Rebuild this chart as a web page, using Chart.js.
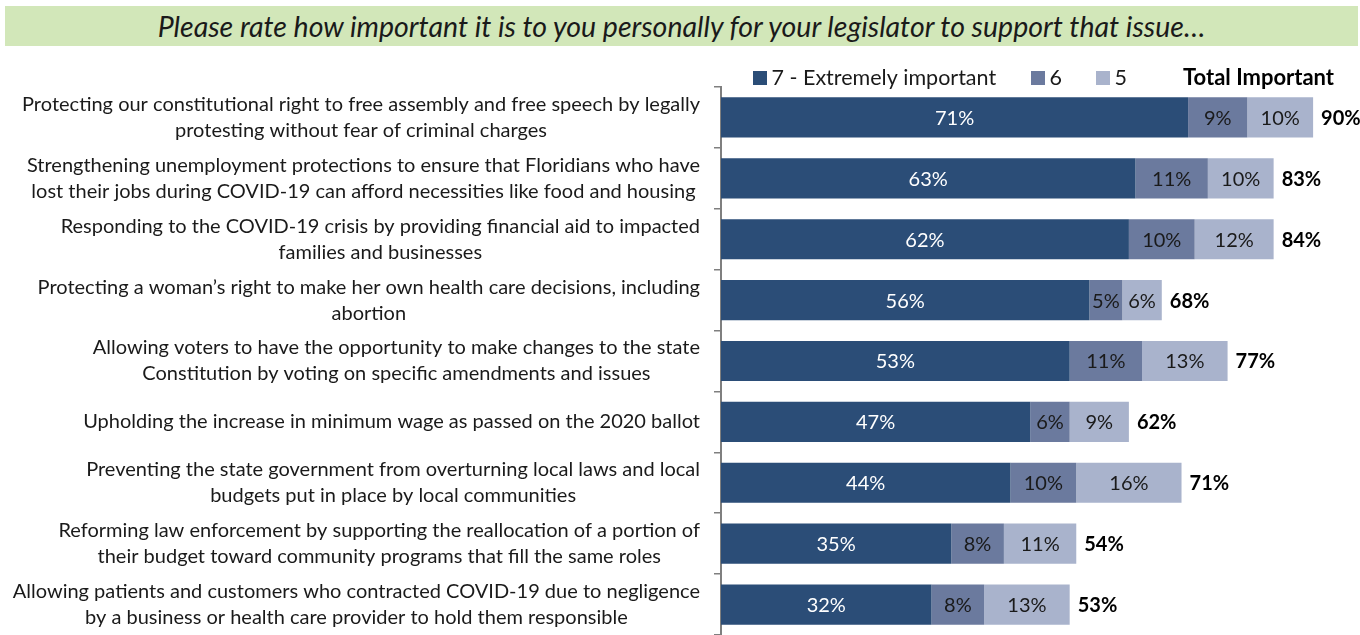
<!DOCTYPE html>
<html>
<head>
<meta charset="utf-8">
<script src="https://cdn.jsdelivr.net/npm/chart.js@4"></script>
<style>
  body { margin: 0; width: 1360px; height: 635px; background: #fff; overflow: hidden; font-family: Lato, sans-serif; }
  #banner {
    position: absolute; left: 5px; top: 6px; width: 1353px; height: 40px;
    background: #d2e7b9; color: #1a1a1a; font-style: italic; font-size: 28.5px;
    line-height: 40px; text-align: center; white-space: nowrap;
  }
  #wrap { position: absolute; left: 0; top: 50px; width: 1360px; height: 585px; }
</style>
</head>
<body>
<div id="banner">Please rate how important it is to you personally for your legislator to support that issue…</div>
<div id="wrap"><canvas id="chart"></canvas></div>
<script>
// Issues (each label broken into its printed lines)
const issues = [
  ['Protecting our constitutional right to free assembly and free speech by legally', 'protesting without fear of criminal charges'],
  ['Strengthening unemployment protections to ensure that Floridians who have', 'lost their jobs during COVID-19 can afford necessities like food and housing'],
  ['Responding to the COVID-19 crisis by providing financial aid to impacted', 'families and businesses'],
  ['Protecting a woman’s right to make her own health care decisions, including', 'abortion'],
  ['Allowing voters to have the opportunity to make changes to the state', 'Constitution by voting on specific amendments and issues'],
  ['Upholding the increase in minimum wage as passed on the 2020 ballot'],
  ['Preventing the state government from overturning local laws and local', 'budgets put in place by local communities'],
  ['Reforming law enforcement by supporting the reallocation of a portion of', 'their budget toward community programs that fill the same roles'],
  ['Allowing patients and customers who contracted COVID-19 due to negligence', 'by a business or health care provider to hold them responsible']
];

const extremely = [71, 63, 62, 56, 53, 47, 44, 35, 32];
const six = [9, 11, 10, 5, 11, 6, 10, 8, 8];
const five = [10, 10, 12, 6, 13, 9, 16, 11, 13];
const totalImportant = [90, 83, 84, 68, 77, 62, 71, 54, 53];

const seriesNames = ['7 - Extremely important', '6', '5'];
const seriesColors = ['#2b4d77', '#6b7a9e', '#a9b3cc'];
const labelColors = ['#ffffff', '#1a1a1a', '#1a1a1a'];

const FONT = 'Lato, sans-serif';

// category labels, centred lines, block right-aligned near the axis
const issueLabels = {
  id: 'issueLabels',
  afterDraw(chart) {
    const ctx = chart.ctx;
    const y = chart.scales.y;
    ctx.save();
    ctx.font = '20px ' + FONT;
    ctx.fillStyle = '#1a1a1a';
    ctx.textAlign = 'center';
    ctx.textBaseline = 'middle';
    issues.forEach((lines, i) => {
      const cy = y.getPixelForTick(i);
      const w = Math.max(...lines.map(l => ctx.measureText(l).width));
      const cx = 700 - w / 2;
      const lh = 26;
      lines.forEach((l, k) => {
        ctx.fillText(l, cx, cy + (k - (lines.length - 1) / 2) * lh);
      });
    });
    ctx.restore();
  }
};

// values inside segments + bold totals
const valueLabels = {
  id: 'valueLabels',
  afterDatasetsDraw(chart) {
    const ctx = chart.ctx;
    ctx.save();
    ctx.textBaseline = 'middle';
    chart.data.datasets.forEach((ds, di) => {
      const meta = chart.getDatasetMeta(di);
      ctx.font = '20px ' + FONT;
      ctx.fillStyle = labelColors[di];
      ctx.textAlign = 'center';
      meta.data.forEach((bar, i) => {
        ctx.fillText(ds.data[i] + '%', (bar.x + bar.base) / 2, bar.y + 1);
      });
    });
    const last = chart.getDatasetMeta(2);
    ctx.font = 'bold 20px ' + FONT;
    ctx.fillStyle = '#000';
    ctx.textAlign = 'left';
    last.data.forEach((bar, i) => {
      ctx.fillText(totalImportant[i] + '%', bar.x + 8, bar.y + 1);
    });
    ctx.restore();
  }
};

// legend row above the bars
const legendRow = {
  id: 'legendRow',
  afterDraw(chart) {
    const ctx = chart.ctx;
    const ly = 28;
    const starts = [753, 1031, 1096];
    ctx.save();
    ctx.font = '21.5px ' + FONT;
    ctx.textBaseline = 'middle';
    ctx.textAlign = 'left';
    seriesNames.forEach((n, i) => {
      ctx.fillStyle = seriesColors[i];
      ctx.fillRect(starts[i], ly - 7, 14, 14);
      ctx.fillStyle = '#1a1a1a';
      ctx.fillText(n, starts[i] + 18.5, ly);
    });
    ctx.font = 'bold 22px ' + FONT;
    ctx.fillStyle = '#000';
    ctx.fillText('Total Important', 1183, ly);
    ctx.restore();
  }
};

new Chart(document.getElementById('chart'), {
  type: 'bar',
  data: {
    labels: issues.map(l => l.join(' ')),
    datasets: [
      { label: seriesNames[0], data: extremely, backgroundColor: seriesColors[0] },
      { label: seriesNames[1], data: six, backgroundColor: seriesColors[1] },
      { label: seriesNames[2], data: five, backgroundColor: seriesColors[2] }
    ]
  },
  options: {
    indexAxis: 'y',
    responsive: true,
    maintainAspectRatio: false,
    animation: false,
    layout: { padding: { top: 37, right: 14, bottom: 0, left: 0 } },
    datasets: { bar: { barPercentage: 0.66, categoryPercentage: 1 } },
    plugins: { legend: { display: false }, tooltip: { enabled: false } },
    scales: {
      x: { stacked: true, display: false, min: 0, max: 95 },
      y: {
        stacked: true,
        afterFit(scale) { scale.width = 721; },
        ticks: { display: false },
        grid: { offset: true, drawOnChartArea: false, drawTicks: true, tickLength: 7, color: '#7f7f7f', lineWidth: 1.5 },
        border: { display: true, color: '#7f7f7f', width: 2 }
      }
    }
  },
  plugins: [issueLabels, valueLabels, legendRow]
});
</script>
</body>
</html>
